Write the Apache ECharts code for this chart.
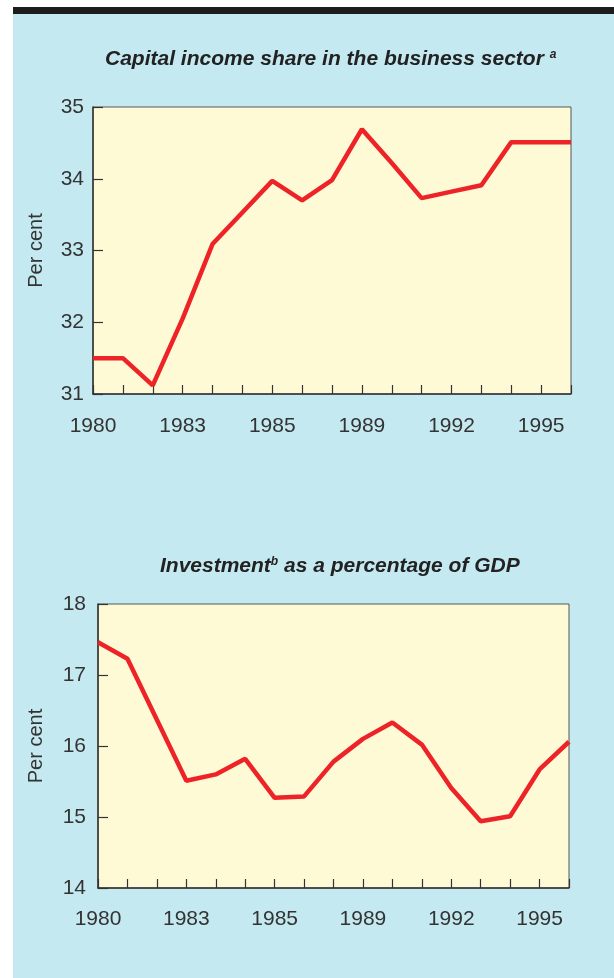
<!DOCTYPE html>
<html>
<head>
<meta charset="utf-8">
<script src="https://cdn.jsdelivr.net/npm/echarts@6/dist/echarts.min.js"></script>
<style>
  html, body { margin: 0; padding: 0; background: #fff; }
  #chart { width: 614px; height: 978px; }
</style>
</head>
<body>
<div id="chart"></div>
<script>
// years on both x axes (1980 - 1996)
var years = ['1980','1981','1982','1983','1984','1985','1986','1987','1988',
             '1989','1990','1991','1992','1993','1994','1995','1996'];
// labels printed under every third tick
var tickLabels = ['1980','1983','1985','1989','1992','1995'];

// capital income share, per cent
var capitalShare = [31.5, 31.5, 31.12, 32.05, 33.09, 33.53, 33.97, 33.7, 33.98,
                    34.69, 34.22, 33.73, 33.82, 33.91, 34.51, 34.51, 34.51];
// investment as % of GDP
var investment = [17.46, 17.23, 16.37, 15.51, 15.6, 15.82, 15.27, 15.29, 15.78,
                  16.1, 16.33, 16.02, 15.41, 14.94, 15.01, 15.67, 16.06];

var BLUE = '#c5e9f1', YELLOW = '#fffad6', RED = '#ee2327', INK = '#333';
var FONT = 'Liberation Sans';

function xAxis(gridIndex, margin) {
  return {
    type: 'category', gridIndex: gridIndex, data: years, boundaryGap: false,
    axisLine: { lineStyle: { color: INK, width: 1.5 } },
    axisTick: { inside: true, length: 9, interval: 0, lineStyle: { color: INK, width: 1.2 } },
    axisLabel: {
      interval: 2, margin: margin, color: INK, fontSize: 21, fontFamily: FONT,
      formatter: function (v, i) { return tickLabels[i / 3] || ''; }
    },
    splitLine: { show: false }
  };
}

function yAxis(gridIndex, min, max, margin, gap) {
  return {
    type: 'value', gridIndex: gridIndex, min: min, max: max, interval: 1,
    name: 'Per cent', nameLocation: 'middle', nameRotate: 90, nameGap: gap,
    nameTextStyle: { color: INK, fontSize: 20, fontFamily: FONT },
    axisLine: { show: true, lineStyle: { color: INK, width: 1.5 } },
    axisTick: { show: true, inside: true, length: 10, lineStyle: { color: INK, width: 1.2 } },
    axisLabel: { margin: margin, color: INK, fontSize: 21, fontFamily: FONT },
    splitLine: { show: false }
  };
}

var titleRich = {
  sup: { fontSize: 12, fontFamily: FONT, color: '#222', padding: [0, 0, 9, 0] }
};

var chart = echarts.init(document.getElementById('chart'));
chart.setOption({
  backgroundColor: '#fff',
  animation: false,
  graphic: [
    { type: 'rect', z: -10, shape: { x: 13, y: 14, width: 601, height: 964 }, style: { fill: BLUE } },
    { type: 'rect', z: -10, shape: { x: 13, y: 7, width: 601, height: 7 }, style: { fill: '#1c1c1c' } }
  ],
  title: [
    { text: 'Capital income share in the business sector {sup|a}', left: 100, top: 44,
      textStyle: { fontSize: 21, fontWeight: 'bold', fontStyle: 'italic', fontFamily: FONT, color: '#222', rich: titleRich } },
    { text: 'Investment{sup|b} as a percentage of GDP', left: 155, top: 551,
      textStyle: { fontSize: 21, fontWeight: 'bold', fontStyle: 'italic', fontFamily: FONT, color: '#222', rich: titleRich } }
  ],
  grid: [
    { left: 93, top: 107, width: 478, height: 287, show: true, backgroundColor: YELLOW, borderColor: '#555', borderWidth: 1 },
    { left: 98, top: 604, width: 471, height: 284, show: true, backgroundColor: YELLOW, borderColor: '#555', borderWidth: 1 }
  ],
  xAxis: [xAxis(0, 22), xAxis(1, 21)],
  yAxis: [yAxis(0, 31, 35, 9, 47), yAxis(1, 14, 18, 12, 52)],
  series: [
    { type: 'line', xAxisIndex: 0, yAxisIndex: 0, data: capitalShare, showSymbol: false,
      lineStyle: { color: RED, width: 4.5 } },
    { type: 'line', xAxisIndex: 1, yAxisIndex: 1, data: investment, showSymbol: false,
      lineStyle: { color: RED, width: 4.5 } }
  ]
});
</script>
</body>
</html>
